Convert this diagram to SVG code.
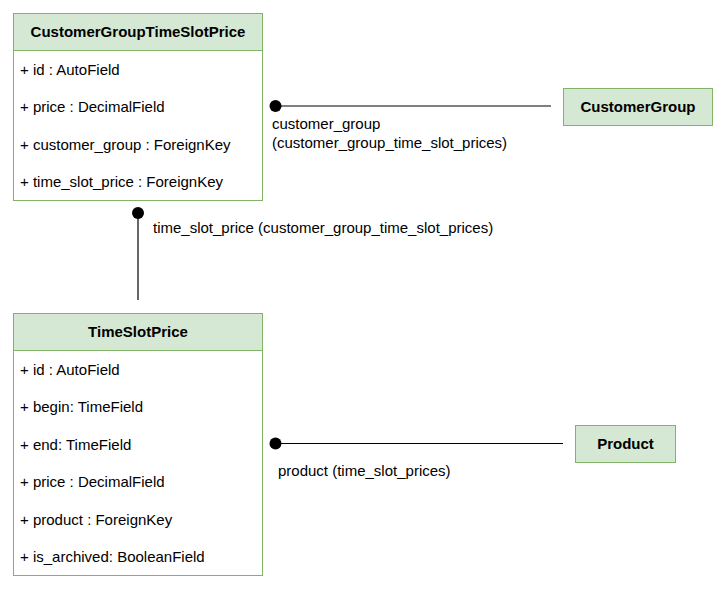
<svg xmlns="http://www.w3.org/2000/svg" width="727" height="589" viewBox="0 0 727 589">
<style>
text{font-family:"Liberation Sans",Arial,sans-serif;font-size:15px;fill:#000}
.h{font-weight:bold;text-anchor:middle}
.hd{fill:#d5e8d4;stroke:#82b366;stroke-width:1}
.bd{fill:#fff;stroke:#82b366;stroke-width:1}
.ln{stroke:#000;stroke-width:1.2;fill:none}
</style>
<rect width="727" height="589" fill="#fff"/>
<g id="connectors">
<line class="ln" x1="275" y1="106" x2="551" y2="106"/>
<circle cx="275.5" cy="106" r="6"/>
<text x="272" y="129">customer_group</text>
<text x="272" y="148">(customer_group_time_slot_prices)</text>
<line class="ln" x1="138" y1="213" x2="138" y2="300"/>
<circle cx="138" cy="213" r="6"/>
<text x="153" y="233">time_slot_price (customer_group_time_slot_prices)</text>
<line class="ln" x1="275" y1="443.5" x2="563" y2="443.5"/>
<circle cx="275.5" cy="443.5" r="6"/>
<text x="278" y="476">product (time_slot_prices)</text>
</g>
<g id="CustomerGroupTimeSlotPrice">
<rect class="bd" x="13.5" y="13.5" width="249" height="187"/>
<rect class="hd" x="13.5" y="13.5" width="249" height="37"/>
<text class="h" x="138" y="37">CustomerGroupTimeSlotPrice</text>
<text x="20" y="75">+ id : AutoField</text>
<text x="20" y="112">+ price : DecimalField</text>
<text x="20" y="150">+ customer_group : ForeignKey</text>
<text x="20" y="187">+ time_slot_price : ForeignKey</text>
</g>
<g id="TimeSlotPrice">
<rect class="bd" x="13.5" y="313.5" width="249" height="262"/>
<rect class="hd" x="13.5" y="313.5" width="249" height="37"/>
<text class="h" x="138" y="337">TimeSlotPrice</text>
<text x="20" y="375">+ id : AutoField</text>
<text x="20" y="412">+ begin: TimeField</text>
<text x="20" y="450">+ end: TimeField</text>
<text x="20" y="487">+ price : DecimalField</text>
<text x="20" y="525">+ product : ForeignKey</text>
<text x="20" y="562">+ is_archived: BooleanField</text>
</g>
<g id="CustomerGroup">
<rect class="hd" x="563.5" y="88.5" width="149" height="37"/>
<text class="h" x="638" y="112">CustomerGroup</text>
</g>
<g id="Product">
<rect class="hd" x="575.5" y="425.5" width="100" height="37"/>
<text class="h" x="625.5" y="449">Product</text>
</g>
</svg>
